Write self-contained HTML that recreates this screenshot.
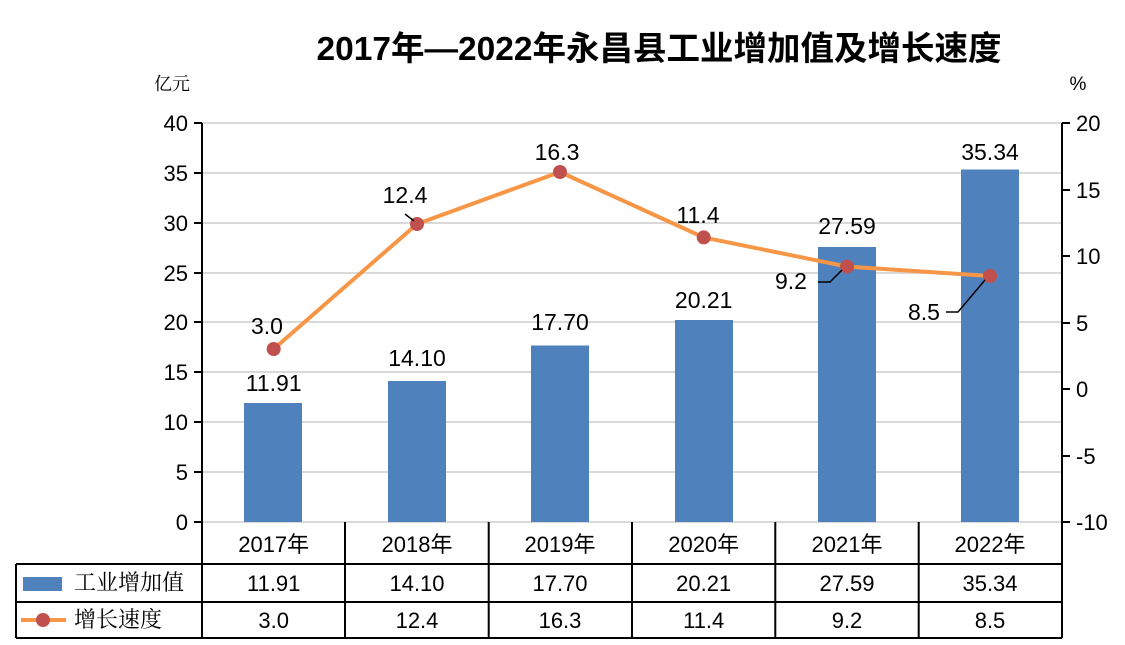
<!DOCTYPE html>
<html><head><meta charset="utf-8"><style>
body{margin:0;background:#fff;}
svg{display:block;font-family:"Liberation Sans","Noto Sans CJK SC",sans-serif;}
</style></head><body>
<svg width="1125" height="645" viewBox="0 0 1125 645" xmlns="http://www.w3.org/2000/svg">
<text x="659" y="60" text-anchor="middle" font-size="33.5" font-weight="bold" font-family="Liberation Sans,Noto Sans CJK SC,sans-serif">2017年—2022年永昌县工业增加值及增长速度</text>
<text x="172" y="90" text-anchor="middle" font-size="18" font-family="Noto Serif CJK SC,serif">亿元</text>
<text x="1078" y="90" text-anchor="middle" font-size="19">%</text>
<g stroke="#d9d9d9" stroke-width="2">
<line x1="202" x2="1062" y1="123" y2="123"/><line x1="202" x2="1062" y1="173" y2="173"/>
<line x1="202" x2="1062" y1="223" y2="223"/><line x1="202" x2="1062" y1="273" y2="273"/>
<line x1="202" x2="1062" y1="322" y2="322"/><line x1="202" x2="1062" y1="372" y2="372"/>
<line x1="202" x2="1062" y1="422" y2="422"/><line x1="202" x2="1062" y1="472" y2="472"/>
<line x1="202" x2="1062" y1="522" y2="522"/>
</g>
<g fill="#4F81BD">
<rect x="244" y="403" width="58" height="119"/>
<rect x="388" y="381" width="58" height="141"/>
<rect x="531" y="345.5" width="58" height="176.5"/>
<rect x="675" y="320" width="58" height="202"/>
<rect x="818" y="247" width="58" height="275"/>
<rect x="961" y="169.5" width="58" height="352.5"/>
</g>
<g stroke="#000" stroke-width="2">
<line x1="202" y1="123" x2="202" y2="522"/>
<line x1="1062" y1="123" x2="1062" y2="522"/>
<line x1="194" x2="202" y1="123" y2="123"/><line x1="194" x2="202" y1="173" y2="173"/>
<line x1="194" x2="202" y1="223" y2="223"/><line x1="194" x2="202" y1="273" y2="273"/>
<line x1="194" x2="202" y1="322" y2="322"/><line x1="194" x2="202" y1="372" y2="372"/>
<line x1="194" x2="202" y1="422" y2="422"/><line x1="194" x2="202" y1="472" y2="472"/>
<line x1="194" x2="202" y1="522" y2="522"/>
<line x1="1062" x2="1070" y1="123" y2="123"/><line x1="1062" x2="1070" y1="190" y2="190"/>
<line x1="1062" x2="1070" y1="256" y2="256"/><line x1="1062" x2="1070" y1="323" y2="323"/>
<line x1="1062" x2="1070" y1="389" y2="389"/><line x1="1062" x2="1070" y1="456" y2="456"/>
<line x1="1062" x2="1070" y1="522" y2="522"/>
</g>
<g font-size="22" text-anchor="end">
<text x="188" y="131">40</text><text x="188" y="181">35</text><text x="188" y="231">30</text>
<text x="188" y="281">25</text><text x="188" y="330">20</text><text x="188" y="380">15</text>
<text x="188" y="430">10</text><text x="188" y="480">5</text><text x="188" y="530">0</text>
</g>
<g font-size="22" text-anchor="start">
<text x="1076" y="131">20</text><text x="1076" y="198">15</text><text x="1076" y="264">10</text>
<text x="1076" y="331">5</text><text x="1076" y="397">0</text><text x="1076" y="464">-5</text>
<text x="1076" y="530">-10</text>
</g>
<polyline points="273.7,349 417,224 560,172 703.7,237.4 847,266.6 990,276" fill="none" stroke="#F79646" stroke-width="4" stroke-linejoin="round"/>
<g fill="#C0504D">
<circle cx="273.7" cy="349" r="7"/><circle cx="417" cy="224" r="7"/><circle cx="560" cy="172" r="7"/>
<circle cx="703.7" cy="237.4" r="7"/><circle cx="847" cy="266.6" r="7"/><circle cx="990" cy="276" r="7"/>
</g>
<g stroke="#000" stroke-width="1.5" fill="none">
<line x1="405" y1="214" x2="414" y2="221"/>
<polyline points="818,282 830,282 842,270"/>
<polyline points="946,312 958,312 985,280"/>
</g>
<g font-size="23" text-anchor="middle">
<text x="267" y="334">3.0</text><text x="405" y="203">12.4</text><text x="557" y="160">16.3</text>
<text x="698" y="223">11.4</text><text x="791" y="289">9.2</text><text x="924" y="320">8.5</text>
<text x="273.7" y="391">11.91</text><text x="417" y="366">14.10</text><text x="560" y="330">17.70</text>
<text x="703.7" y="308">20.21</text><text x="847" y="234">27.59</text><text x="990" y="160">35.34</text>
</g>
<g stroke="#000" stroke-width="2" fill="none">
<polyline points="202,522 202,638"/>
<line x1="16" y1="564" x2="1062" y2="564"/>
<line x1="16" y1="602" x2="1062" y2="602"/>
<line x1="16" y1="638" x2="1062" y2="638"/>
<line x1="16" y1="564" x2="16" y2="638"/>
<line x1="345" y1="522" x2="345" y2="638"/><line x1="488.7" y1="522" x2="488.7" y2="638"/>
<line x1="632" y1="522" x2="632" y2="638"/><line x1="775.3" y1="522" x2="775.3" y2="638"/>
<line x1="918.7" y1="522" x2="918.7" y2="638"/><line x1="1062" y1="522" x2="1062" y2="638"/>
</g>
<rect x="23" y="577" width="39" height="14" fill="#4F81BD"/>
<line x1="21" y1="620" x2="66" y2="620" stroke="#F79646" stroke-width="4"/>
<circle cx="43" cy="620" r="7" fill="#C0504D"/>
<g font-size="22" font-family="Noto Serif CJK SC,serif">
<text x="74" y="590">工业增加值</text><text x="74" y="627">增长速度</text>
</g>
<g font-size="22" text-anchor="middle">
<text x="273.7" y="552">2017年</text><text x="417" y="552">2018年</text><text x="560" y="552">2019年</text>
<text x="703.7" y="552">2020年</text><text x="847" y="552">2021年</text><text x="990" y="552">2022年</text>
<text x="273.7" y="591">11.91</text><text x="417" y="591">14.10</text><text x="560" y="591">17.70</text>
<text x="703.7" y="591">20.21</text><text x="847" y="591">27.59</text><text x="990" y="591">35.34</text>
<text x="273.7" y="628">3.0</text><text x="417" y="628">12.4</text><text x="560" y="628">16.3</text>
<text x="703.7" y="628">11.4</text><text x="847" y="628">9.2</text><text x="990" y="628">8.5</text>
</g>
</svg>
</body></html>
